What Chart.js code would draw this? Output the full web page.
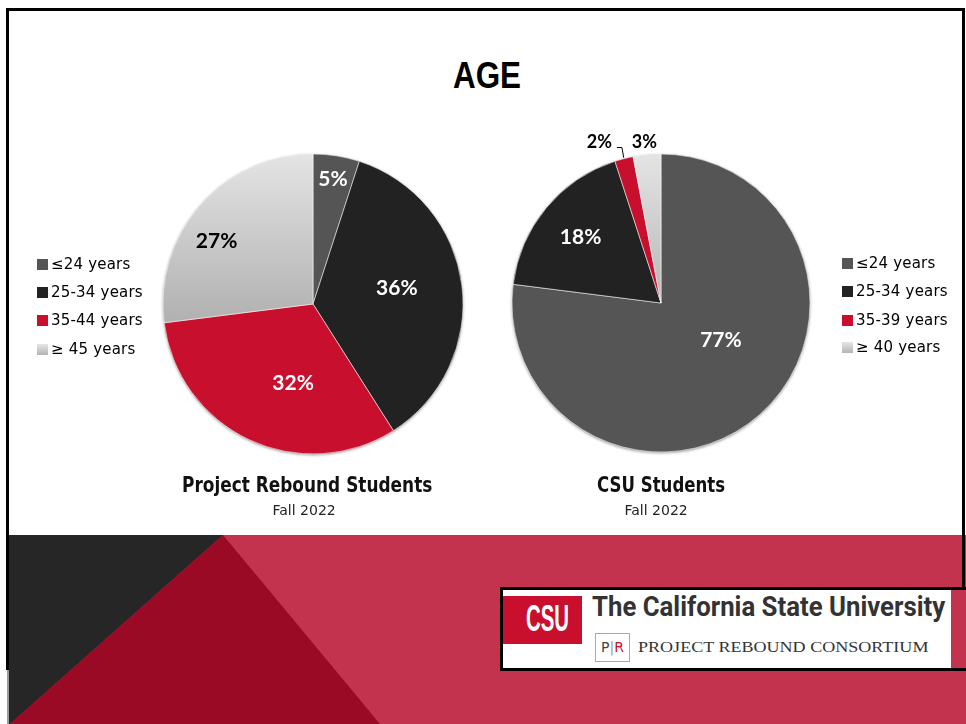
<!DOCTYPE html>
<html>
<head>
<meta charset="utf-8">
<title>Age</title>
<script src="https://cdn.jsdelivr.net/npm/chart.js@4.4.0/dist/chart.umd.min.js"></script>
<style>
  body { margin: 0; background: #fff; }
  #slide { position: relative; width: 966px; height: 724px; overflow: hidden; background: #fff; font-family: "DejaVu Sans", sans-serif; }
  .abs { position: absolute; }
  .band { position: absolute; left: 0; top: 0; width: 966px; height: 724px; }
  .pink { background: #c4334e; clip-path: polygon(9px 535px, 966px 535px, 966px 724px, 9px 724px); }
  .dark { background: #262626; clip-path: polygon(9px 535px, 223px 535px, 10px 724px, 9px 724px); }
  .wine { background: #9b0a24; clip-path: polygon(223px 535px, 380px 724px, 10px 724px); }
  .frame { position: absolute; background: #000; }
  .fit { white-space: nowrap; transform-origin: 0 0; }
  .title { font: bold 36px "Liberation Sans", Arial, sans-serif; line-height: 36px; color: #000; }
  .sub { font: bold 21px "DejaVu Sans", sans-serif; line-height: 21px; color: #111; }
  .term { font: 14px "DejaVu Sans", sans-serif; line-height: 14px; color: #222; }
  .legend { position: absolute; font: 15px "DejaVu Sans", sans-serif; letter-spacing: 0.2px; color: #000; }
  .legend .row { position: absolute; left: 0; white-space: nowrap; line-height: 15px; }
  .legend .box { position: absolute; left: 0; width: 11px; height: 11px; }
  .legend .txt { position: absolute; left: 14px; top: 0; }
  canvas { position: absolute; }
  #logo { position: absolute; left: 500px; top: 587px; width: 464px; height: 78px; background: #c4334e;
          border-top: 3px solid #000; border-bottom: 3px solid #000; border-left: 3px solid #000; }
  #logo .paper { position: absolute; left: 0; top: 0; width: 448px; height: 78px; background: #fff; }
  #logo .csu { position: absolute; left: 0; top: 6px; width: 79px; height: 48px; background: #c8102e; }
  .pr { position: absolute; left: 92px; top: 43px; width: 33px; height: 27px; border: 1px solid #aaa;
        font: 14px "DejaVu Sans", sans-serif; line-height: 27px; text-align: center; color: #444; }
  .leftover { position: absolute; left: 7px; top: 670px; width: 2px; height: 54px; background: #9a9a9a; }
</style>
</head>
<body>
<div id="slide">
  <div class="band pink"></div>
  <div class="band dark"></div>
  <div class="band wine"></div>

  <div class="frame" style="left:6px; top:8px; width:959px; height:3px;"></div>
  <div class="frame" style="left:6px; top:8px; width:3px; height:662px;"></div>
  <div class="frame" style="left:962px; top:8px; width:3px; height:662px;"></div>
  <div class="leftover"></div>

  <div class="abs fit title" data-w="68" data-cx="487" style="top:58px;">AGE</div>

  <canvas id="pieLeft" width="360" height="360" style="left:133px; top:124px;"></canvas>
  <canvas id="pieRight" width="360" height="360" style="left:481px; top:123px;"></canvas>

  <div class="legend" id="legendLeft" style="left:37px; top:0;"></div>
  <div class="legend" id="legendRight" style="left:842px; top:0;"></div>

  <div class="abs fit sub" data-w="250" data-cx="307" style="top:475px;">Project Rebound Students</div>
  <div class="abs fit term" data-w="63" data-cx="304" style="top:503px;">Fall 2022</div>
  <div class="abs fit sub" data-w="128" data-cx="661" style="top:475px;">CSU Students</div>
  <div class="abs fit term" data-w="63" data-cx="656" style="top:503px;">Fall 2022</div>

  <div id="logo">
    <div class="paper">
      <div class="csu">
        <div class="abs fit" data-w="43" style="left:23px; top:4px; font:bold 37px 'Liberation Sans', Arial, sans-serif; line-height:37px; color:#fff;">CSU</div>
      </div>
      <div class="abs fit" data-w="353" style="left:89px; top:4px; font:bold 27px Roboto, sans-serif; line-height:27px; color:#333;">The California State University</div>
      <div class="pr">P<span style="color:#999;">|</span><span style="color:#c8102e;">R</span></div>
      <div class="abs fit" data-w="290" style="left:135px; top:50px; font:15px 'Liberation Serif', serif; line-height:15px; color:#333;">PROJECT REBOUND CONSORTIUM</div>
    </div>
  </div>
</div>

<script>
// Age breakdown, Fall 2022
const prLabels = ['≤24 years', '25-34 years', '35-44 years', '≥ 45 years'];
const prValues = [5, 36, 32, 27];

const csuLabels = ['≤24 years', '25-34 years', '35-39 years', '≥ 40 years'];
const csuValues = [77, 18, 2, 3];

const sliceColors = ['#555555', '#222222', '#c8102e', 'grey-gradient'];

// where each percentage sits: fraction of radius, angle nudge in degrees
const prSpots = [
  { dist: 0.85, shift: 0, color: '#fff' },
  { dist: 0.57, shift: -4, color: '#fff' },
  { dist: 0.54, shift: -11, color: '#fff' },
  { dist: 0.77, shift: -8, color: '#000' }
];
const csuSpots = [
  { dist: 0.47, shift: -17.5, color: '#fff' },
  { dist: 0.70, shift: 0, color: '#fff' },
  { dist: 1.16, shift: -6.5, color: '#000', outside: true, leader: true },
  { dist: 1.09, shift: -0.5, color: '#000', outside: true }
];

function fillFor(chart, radius, key) {
  if (key !== 'grey-gradient') return key;
  const area = chart.chartArea;
  if (!area) return '#d0d0d0';
  const cy = (area.top + area.bottom) / 2;
  const g = chart.ctx.createLinearGradient(0, cy - radius, 0, cy + 30);
  g.addColorStop(0, '#e4e4e4');
  g.addColorStop(1, '#adadad');
  return g;
}

// soft rim under the pie
const pieRim = {
  id: 'pieRim',
  beforeDatasetsDraw(chart) {
    const arc = chart.getDatasetMeta(0).data[0];
    if (!arc) return;
    const ctx = chart.ctx;
    ctx.save();
    ctx.shadowColor = 'rgba(0,0,0,0.45)';
    ctx.shadowBlur = 3;
    ctx.shadowOffsetY = 1;
    ctx.beginPath();
    ctx.arc(arc.x, arc.y, arc.outerRadius, 0, Math.PI * 2);
    ctx.fillStyle = '#999';
    ctx.fill();
    ctx.restore();
  }
};

const sliceLabels = {
  id: 'sliceLabels',
  afterDatasetsDraw(chart, args, opts) {
    const ctx = chart.ctx;
    const values = chart.data.datasets[0].data;
    chart.getDatasetMeta(0).data.forEach((arc, i) => {
      const spot = opts.spots[i];
      const p = arc.getProps(['x', 'y', 'startAngle', 'endAngle', 'outerRadius'], true);
      const mid = (p.startAngle + p.endAngle) / 2;
      const a = mid + spot.shift * Math.PI / 180;
      const lx = p.x + Math.cos(a) * p.outerRadius * spot.dist;
      const ly = p.y + Math.sin(a) * p.outerRadius * spot.dist;
      const size = spot.outside ? 18 : 21;
      const text = values[i] + '%';
      ctx.save();
      ctx.font = 'bold ' + size + 'px Lato, sans-serif';
      ctx.textAlign = 'center';
      ctx.textBaseline = 'alphabetic';
      ctx.fillStyle = spot.color;
      ctx.fillText(text, lx, ly + size * 0.36);
      if (spot.leader) {
        const w = ctx.measureText(text).width;
        const sx = lx + w / 2 + 5;
        const sy = ly + 6;
        ctx.strokeStyle = '#000';
        ctx.lineWidth = 1;
        ctx.beginPath();
        ctx.moveTo(sx, sy);
        ctx.lineTo(sx + 5, sy);
        ctx.lineTo(p.x + Math.cos(mid) * (p.outerRadius + 1), p.y + Math.sin(mid) * (p.outerRadius + 1));
        ctx.stroke();
      }
      ctx.restore();
    });
  }
};

function drawPie(id, labels, values, radius, spots) {
  const ctx = document.getElementById(id).getContext('2d');
  return new Chart(ctx, {
    type: 'pie',
    data: {
      labels: labels,
      datasets: [{
        data: values,
        backgroundColor: (c) => fillFor(c.chart, radius, sliceColors[c.dataIndex]),
        borderColor: 'rgba(255,255,255,0.55)',
        borderWidth: 1,
        hoverOffset: 0
      }]
    },
    options: {
      responsive: false,
      animation: false,
      events: [],
      radius: radius,
      layout: { padding: 0 },
      plugins: {
        legend: { display: false },
        tooltip: { enabled: false },
        sliceLabels: { spots: spots }
      }
    },
    plugins: [pieRim, sliceLabels]
  });
}

function buildLegend(id, labels, rowCenters) {
  const box = document.getElementById(id);
  labels.forEach((label, i) => {
    const row = document.createElement('div');
    row.className = 'row';
    row.style.top = (rowCenters[i] - 7.5) + 'px';
    const swatch = document.createElement('div');
    swatch.className = 'box';
    swatch.style.top = '2px';
    swatch.style.background = sliceColors[i] === 'grey-gradient'
      ? 'linear-gradient(#e6e6e6, #b4b4b4)' : sliceColors[i];
    const txt = document.createElement('div');
    txt.className = 'txt';
    txt.textContent = label;
    row.appendChild(swatch);
    row.appendChild(txt);
    box.appendChild(row);
  });
}

// squeeze text to a set width, and centre it on data-cx if given
function fitText() {
  document.querySelectorAll('.fit').forEach(el => {
    el.style.transform = 'none';
    const natural = el.scrollWidth;
    const target = el.dataset.w ? parseFloat(el.dataset.w) : natural;
    el.style.transform = 'scaleX(' + (target / natural) + ')';
    if (el.dataset.cx) el.style.left = (parseFloat(el.dataset.cx) - target / 2) + 'px';
  });
}

buildLegend('legendLeft', prLabels, [264.5, 292.5, 320.8, 349]);
buildLegend('legendRight', csuLabels, [263, 291.7, 320, 347.7]);
drawPie('pieLeft', prLabels, prValues, 150, prSpots);
drawPie('pieRight', csuLabels, csuValues, 149, csuSpots);
document.fonts.ready.then(fitText);
fitText();
</script>
</body>
</html>
